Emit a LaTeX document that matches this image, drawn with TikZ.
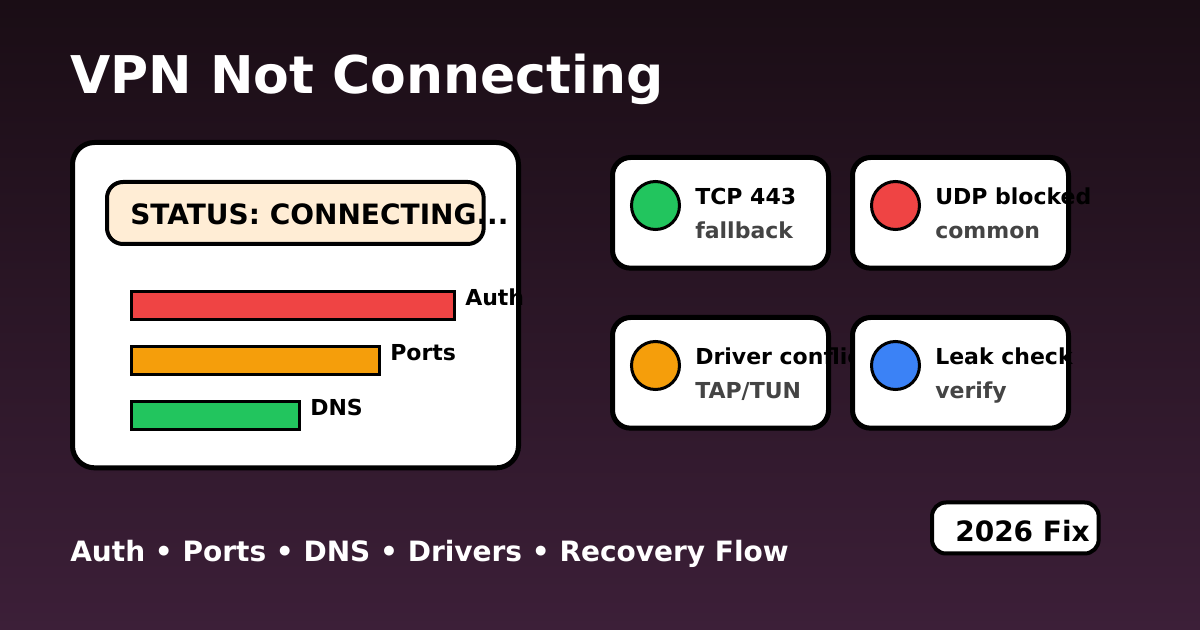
\documentclass[tikz,border=0pt]{standalone}
\usepackage{xcolor}
\usepackage{fontspec}
\usepackage{tikz}
\usetikzlibrary{positioning}
\setmainfont{DejaVu Sans}
\definecolor{bgtop}{HTML}{1A0D15}
\definecolor{bgbottom}{HTML}{3C1F38}
\definecolor{statusfill}{HTML}{FFEDD5}
\definecolor{redfill}{HTML}{EF4444}
\definecolor{amberfill}{HTML}{F59E0B}
\definecolor{greenfill}{HTML}{22C55E}
\definecolor{bluefill}{HTML}{3B82F6}
\definecolor{subgrey}{HTML}{444444}
\newcommand{\boldsize}[1]{\fontsize{#1}{#1}\selectfont\bfseries}
\tikzset{
    panel/.style = {
        draw = black, fill = white, line width = 3.75pt,
        minimum width = 334.5pt, minimum height = 244pt, outer sep = 0pt,
        rounded corners = 16.5pt, inner sep = 0pt, anchor = north west
    },
    statusbox/.style = {
        draw = black, fill = statusfill, line width = 3pt,
        minimum width = 282.5pt, minimum height = 46.5pt, outer sep = 0pt,
        rounded corners = 12pt, inner sep = 0pt, anchor = north west
    },
    bar/.style = {
        draw = black, line width = 2.25pt, minimum height = 20.75pt, outer sep = 0pt,
        inner sep = 0pt, anchor = north west
    },
    card/.style = {
        draw = black, fill = white, line width = 3.75pt,
        minimum width = 162pt, minimum height = 83pt, outer sep = 0pt,
        rounded corners = 13.5pt, inner sep = 0pt, anchor = north west
    },
    lamp/.style = {
        draw = black, circle, line width = 2.25pt, outer sep = 0pt,
        minimum size = 36pt, inner sep = 0pt
    },
    badge/.style = {
        draw = black, fill = white, line width = 3pt,
        minimum width = 125pt, minimum height = 38.25pt, outer sep = 0pt,
        rounded corners = 10.5pt, inner sep = 0pt, anchor = north west
    },
    txt/.style = {inner sep = 0pt, anchor = base west},
    cardhead/.style = {txt, font = \boldsize{16.5pt}, text = black},
    cardsub/.style = {txt, font = \boldsize{16.5pt}, text = subgrey},
    barlabel/.style = {txt, font = \boldsize{16.5pt}, text = black}
}
\begin{document}
\begin{tikzpicture}[x = 0.75pt, y = -0.75pt]

    \useasboundingbox (0,0) rectangle (1200,630);
    \shade[top color = bgtop, bottom color = bgbottom] (0,0) rectangle (1200,630);

    \node[txt, font = \boldsize{39pt}, text = white] (title) at (70,94) {VPN Not Connecting};

    % left panel
    \node[panel] (window) at (72.5,142.5) {};
    \node[statusbox] (status) at (107,182) {};
    \node[txt, font = \boldsize{21pt}, text = black] (statustext) at (130,225) {STATUS: CONNECTING...};
    \node[bar, fill = redfill, minimum width = 242.25pt] (barauth) at (131.5,291.5) {};
    \node[bar, fill = amberfill, minimum width = 186pt] (barports) at (131.5,346.5) {};
    \node[bar, fill = greenfill, minimum width = 126pt] (bardns) at (131.5,401.5) {};
    \node[barlabel] (auth) at (465,306) {Auth};
    \node[barlabel] (ports) at (390,361) {Ports};
    \node[barlabel] (dns) at (310,416) {DNS};

    % cards
    \node[card] (tcp) at (612.5,157.5) {};
    \node[lamp, fill = greenfill] (tcplamp) at (655.5,205.5) {};
    \node[cardhead] (tcphead) at (695,205) {TCP 443};
    \node[cardsub] (tcpsub) at (695,239) {fallback};

    \node[card] (udp) at (852.5,157.5) {};
    \node[lamp, fill = redfill] (udplamp) at (895.5,205.5) {};
    \node[cardhead] (udphead) at (935,205) {UDP blocked};
    \node[cardsub] (udpsub) at (935,239) {common};

    \node[card] (driver) at (612.5,317.5) {};
    \node[lamp, fill = amberfill] (driverlamp) at (655.5,365.5) {};
    \node[cardhead] (driverhead) at (695,365) {Driver conflict};
    \node[cardsub] (driversub) at (695,399) {TAP/TUN};

    \node[card] (leak) at (852.5,317.5) {};
    \node[lamp, fill = bluefill] (leaklamp) at (895.5,365.5) {};
    \node[cardhead] (leakhead) at (935,365) {Leak check};
    \node[cardsub] (leaksub) at (935,399) {verify};

    % footer
    \node[txt, font = \boldsize{21pt}, text = white] (footer) at (70,562) {Auth • Ports • DNS • Drivers • Recovery Flow};
    \node[badge] (fixbox) at (932,502.5) {};
    \node[txt, font = \boldsize{21pt}, text = black] (fixtext) at (955,542) {2026 Fix};

\end{tikzpicture}
\end{document}
